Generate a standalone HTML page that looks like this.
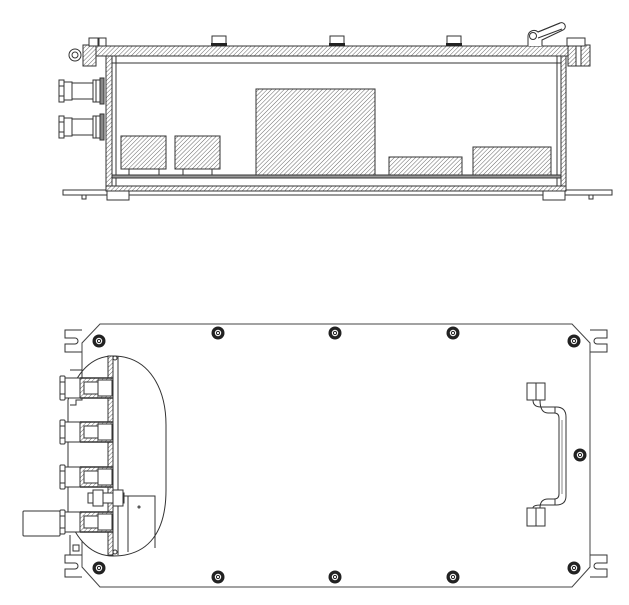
<!DOCTYPE html>
<html><head><meta charset="utf-8"><style>html,body{margin:0;padding:0;background:#fff}svg{display:block}</style></head>
<body>
<svg width="629" height="605" viewBox="0 0 629 605" xmlns="http://www.w3.org/2000/svg" fill="none" stroke="#333" stroke-width="1">
<defs>
<pattern id="h" width="3" height="3" patternUnits="userSpaceOnUse" patternTransform="rotate(45)">
<rect width="3" height="3" fill="#fff" stroke="none"/><line x1="0" y1="0" x2="0" y2="3" stroke="#666" stroke-width="1"/></pattern>
<g id="bolt"><circle r="6.5" fill="#222" stroke="none"/><circle r="3.2" fill="#fff" stroke="none"/><circle r="1.6" fill="none" stroke="#222"/></g>
<g id="conn">
<rect x="59" y="-11" width="5" height="22" fill="#fff"/>
<line x1="59" y1="-5" x2="64" y2="-5"/><line x1="59" y1="5" x2="64" y2="5"/>
<rect x="64" y="-9" width="8" height="18" fill="#fff"/>
<rect x="72" y="-8" width="21" height="16" fill="#fff"/>
<rect x="93" y="-11" width="7" height="22" fill="#fff"/>
<line x1="96" y1="-11" x2="96" y2="11"/>
<rect x="100" y="-13" width="4" height="26" fill="#888"/>
</g>
<g id="bconn">
<rect x="60" y="-12" width="5" height="24" rx="1" fill="#fff"/>
<line x1="60" y1="-6" x2="65" y2="-6"/><line x1="60" y1="6" x2="65" y2="6"/>
<rect x="65" y="-10" width="30" height="20" fill="#fff"/>
<rect x="80" y="-10" width="33" height="20" fill="url(#h)"/>
<rect x="84" y="-6" width="14" height="12" fill="#fff"/>
<rect x="98" y="-8" width="14" height="16" fill="#fff"/>
<line x1="80" y1="-10" x2="113" y2="-10" stroke-width="1.5"/>
<line x1="80" y1="10" x2="113" y2="10" stroke-width="1.5"/>
</g>
</defs>

<!-- ===== TOP VIEW ===== -->
<rect x="63" y="190" width="549" height="5" fill="#fff"/>
<rect x="82" y="195" width="4" height="4"/>
<rect x="589" y="195" width="4" height="4"/>
<rect x="107" y="191" width="22" height="9" fill="#fff"/>
<rect x="543" y="191" width="22" height="9" fill="#fff"/>
<rect x="106" y="186" width="460" height="5" fill="url(#h)"/>
<rect x="106" y="56" width="6" height="130" fill="url(#h)"/>
<rect x="561" y="56" width="5" height="130" fill="url(#h)"/>
<line x1="116" y1="56" x2="116" y2="186"/>
<line x1="557" y1="56" x2="557" y2="186"/>
<line x1="112" y1="63" x2="561" y2="63"/>
<rect x="95" y="46" width="482" height="10" fill="url(#h)"/>
<rect x="83" y="45" width="13" height="21" fill="url(#h)"/>
<rect x="89" y="38" width="9" height="8" fill="#fff"/>
<rect x="99" y="38" width="7" height="8" fill="#fff"/>
<rect x="568" y="45" width="22" height="21" fill="url(#h)"/>
<rect x="576" y="40" width="5" height="26" fill="#fff"/>
<rect x="567" y="38" width="18" height="8" fill="#fff"/>
<circle cx="75" cy="55" r="6" fill="#fff"/><circle cx="75" cy="55" r="3"/>
<path d="M528 46 V36 a6 6 0 0 1 10 -4 L560 23 a3.5 3.5 0 0 1 3 7 L542 40 V46" fill="#fff"/>
<circle cx="533" cy="36" r="3.5"/>
<line x1="538" y1="32" x2="560" y2="23"/><line x1="538" y1="38" x2="562" y2="29"/>
<g fill="#fff"><rect x="212" y="36" width="14" height="8"/><rect x="330" y="36" width="14" height="8"/><rect x="447" y="36" width="14" height="8"/></g>
<g fill="#222" stroke="none"><rect x="211" y="43" width="16" height="3"/><rect x="329" y="43" width="16" height="3"/><rect x="446" y="43" width="16" height="3"/></g>
<use href="#conn" transform="translate(0,91)"/>
<use href="#conn" transform="translate(0,127)"/>
<rect x="112" y="175" width="449" height="3" fill="#999"/>
<rect x="121" y="136" width="45" height="33" fill="url(#h)"/>
<rect x="129" y="169" width="30" height="6" fill="#fff"/>
<rect x="175" y="136" width="45" height="33" fill="url(#h)"/>
<rect x="183" y="169" width="29" height="6" fill="#fff"/>
<rect x="256" y="89" width="119" height="86" fill="url(#h)"/>
<rect x="389" y="157" width="73" height="18" fill="url(#h)"/>
<rect x="473" y="147" width="78" height="28" fill="url(#h)"/>

<!-- ===== BOTTOM VIEW ===== -->
<g fill="#fff">
<path d="M82 330 H65 v8 h10 a3 3 0 0 1 0 6 h-10 v8 h17"/>
<path d="M82 555 H65 v8 h10 a3 3 0 0 1 0 6 h-10 v8 h17"/>
<path d="M590 330 H607 v8 h-10 a3 3 0 0 0 0 6 h10 v8 h-17"/>
<path d="M590 555 H607 v8 h-10 a3 3 0 0 0 0 6 h10 v8 h-17"/>
</g>
<path d="M100 324 H572 L590 343 V567 L572 587 H100 L82 567 V343 Z" fill="#fff" stroke="#444"/>
<path d="M113 356 C150 356 166 390 166 425 V490 C166 530 150 556 113 556 C92 556 76 540 68 515 L68 400 C76 372 92 356 113 356 Z" fill="#fff"/>
<rect x="108" y="356" width="5" height="199" fill="url(#h)"/>
<line x1="118" y1="356" x2="118" y2="555"/>
<path d="M118 496 H155 V548"/>
<line x1="128" y1="496" x2="128" y2="552"/>
<circle cx="139" cy="507" r="1"/>
<circle cx="115" cy="358" r="2"/><circle cx="115" cy="552" r="2"/>
<g fill="#fff"><rect x="88" y="493" width="36" height="10"/><rect x="93" y="490" width="10" height="16"/><rect x="113" y="490" width="10" height="16"/></g>
<path d="M70 370 H82 V400 H76 V405 H70" />
<path d="M70 535 V555 H82"/><rect x="73" y="545" width="6" height="6"/>
<use href="#bconn" transform="translate(0,388)"/>
<use href="#bconn" transform="translate(0,432)"/>
<use href="#bconn" transform="translate(0,477)"/>
<use href="#bconn" transform="translate(0,522)"/>
<rect x="23" y="511" width="37" height="25" rx="1" fill="#fff"/>
<use href="#bolt" x="218" y="333"/><use href="#bolt" x="335" y="333"/><use href="#bolt" x="453" y="333"/>
<use href="#bolt" x="99" y="341"/><use href="#bolt" x="574" y="341"/>
<use href="#bolt" x="580" y="455"/>
<use href="#bolt" x="99" y="568"/><use href="#bolt" x="574" y="568"/>
<use href="#bolt" x="218" y="577"/><use href="#bolt" x="335" y="577"/><use href="#bolt" x="453" y="577"/>
<g fill="#fff">
<rect x="527" y="383" width="18" height="17"/><line x1="536" y1="383" x2="536" y2="400"/>
<rect x="527" y="508" width="18" height="18"/><line x1="536" y1="508" x2="536" y2="526"/>
</g>
<path d="M533 400 Q533 407 541 407 H556 Q566 407 566 417 V496 Q566 505 556 505 H541 Q533 505 533 508"/>
<path d="M540 400 Q540 413 548 413 H554 Q559 413 559 418 V494 Q559 499 554 499 H548 Q540 499 540 508"/>
<line x1="555" y1="407" x2="555" y2="413"/><line x1="555" y1="499" x2="555" y2="505"/>
<line x1="562" y1="420" x2="562" y2="494" stroke="#888"/>
</svg>
</body></html>
